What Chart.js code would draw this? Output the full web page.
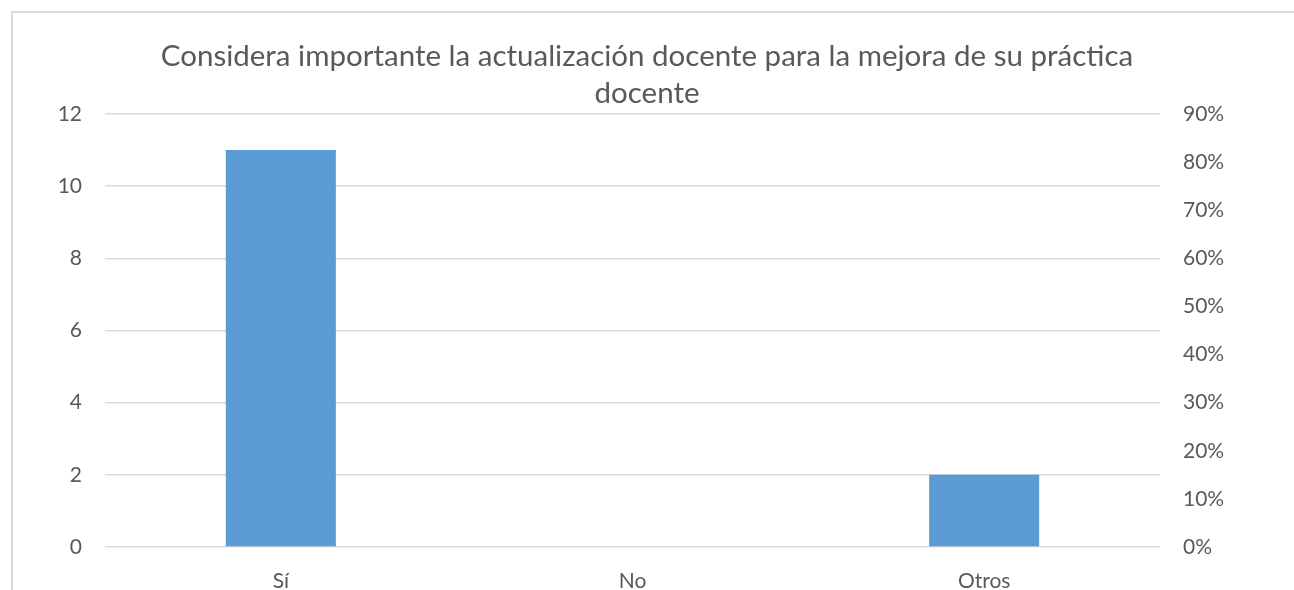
<!DOCTYPE html>
<html>
<head>
<meta charset="utf-8">
<script src="https://cdn.jsdelivr.net/npm/chart.js@4"></script>
<style>
    html, body { margin: 0; padding: 0; background: #fff; overflow: hidden; }
    #frame { position: absolute; left: 11px; top: 11px; width: 1300px; height: 600px;
             border-left: 2px solid #d9d9d9; border-top: 2px solid #d9d9d9; }
    #wrap { position: absolute; left: 0; top: 0; width: 1294px; height: 590px; }
</style>
</head>
<body>
<div id="frame"></div>
<div id="wrap"><canvas id="chart" width="1294" height="590"></canvas></div>
<script>
// data
const categories = ['Sí', 'No', 'Otros'];
const counts = [11, 0, 2];
const titleLines = ['Considera importante la actualización docente para la mejora de su práctica', 'docente'];

const textColor = '#595959';
const gridColor = '#d9d9d9';
const fontFamily = 'Lato, "Open Sans", sans-serif';

const ctx = document.getElementById('chart').getContext('2d');
new Chart(ctx, {
    type: 'bar',
    data: {
        labels: categories,
        datasets: [{
            label: 'Respuestas',
            data: counts,
            backgroundColor: '#5b9bd5',
            barPercentage: 0.313,
            categoryPercentage: 1,
            yAxisID: 'y'
        }]
    },
    options: {
        responsive: false,
        animation: false,
        layout: { padding: 0 },
        plugins: {
            legend: { display: false },
            tooltip: { enabled: false },
            title: {
                display: true,
                text: titleLines,
                color: textColor,
                font: { family: fontFamily, size: 29.5, weight: 'normal', lineHeight: 1.254 },
                padding: { top: 37.5, bottom: 2.5 }
            }
        },
        scales: {
            x: {
                grid: { display: false, drawTicks: false },
                border: { display: false },
                ticks: { color: textColor, font: { family: fontFamily, size: 21 }, padding: 22 },
                afterFit: s => { s.height = 43; }
            },
            y: {
                position: 'left',
                min: 0,
                max: 12,
                ticks: { stepSize: 2, color: textColor, font: { family: fontFamily, size: 21 }, padding: 23 },
                grid: { color: gridColor, lineWidth: 1.5, drawTicks: false },
                border: { display: false },
                afterFit: s => { s.width = 105; }
            },
            y1: {
                position: 'right',
                min: 0,
                max: 0.9,
                ticks: {
                    stepSize: 0.1,
                    color: textColor,
                    font: { family: fontFamily, size: 21 },
                    padding: 23,
                    callback: v => Math.round(v * 100) + '%'
                },
                grid: { display: false, drawTicks: false },
                border: { display: false },
                afterFit: s => { s.width = 134; }
            }
        }
    }
});
</script>
</body>
</html>
